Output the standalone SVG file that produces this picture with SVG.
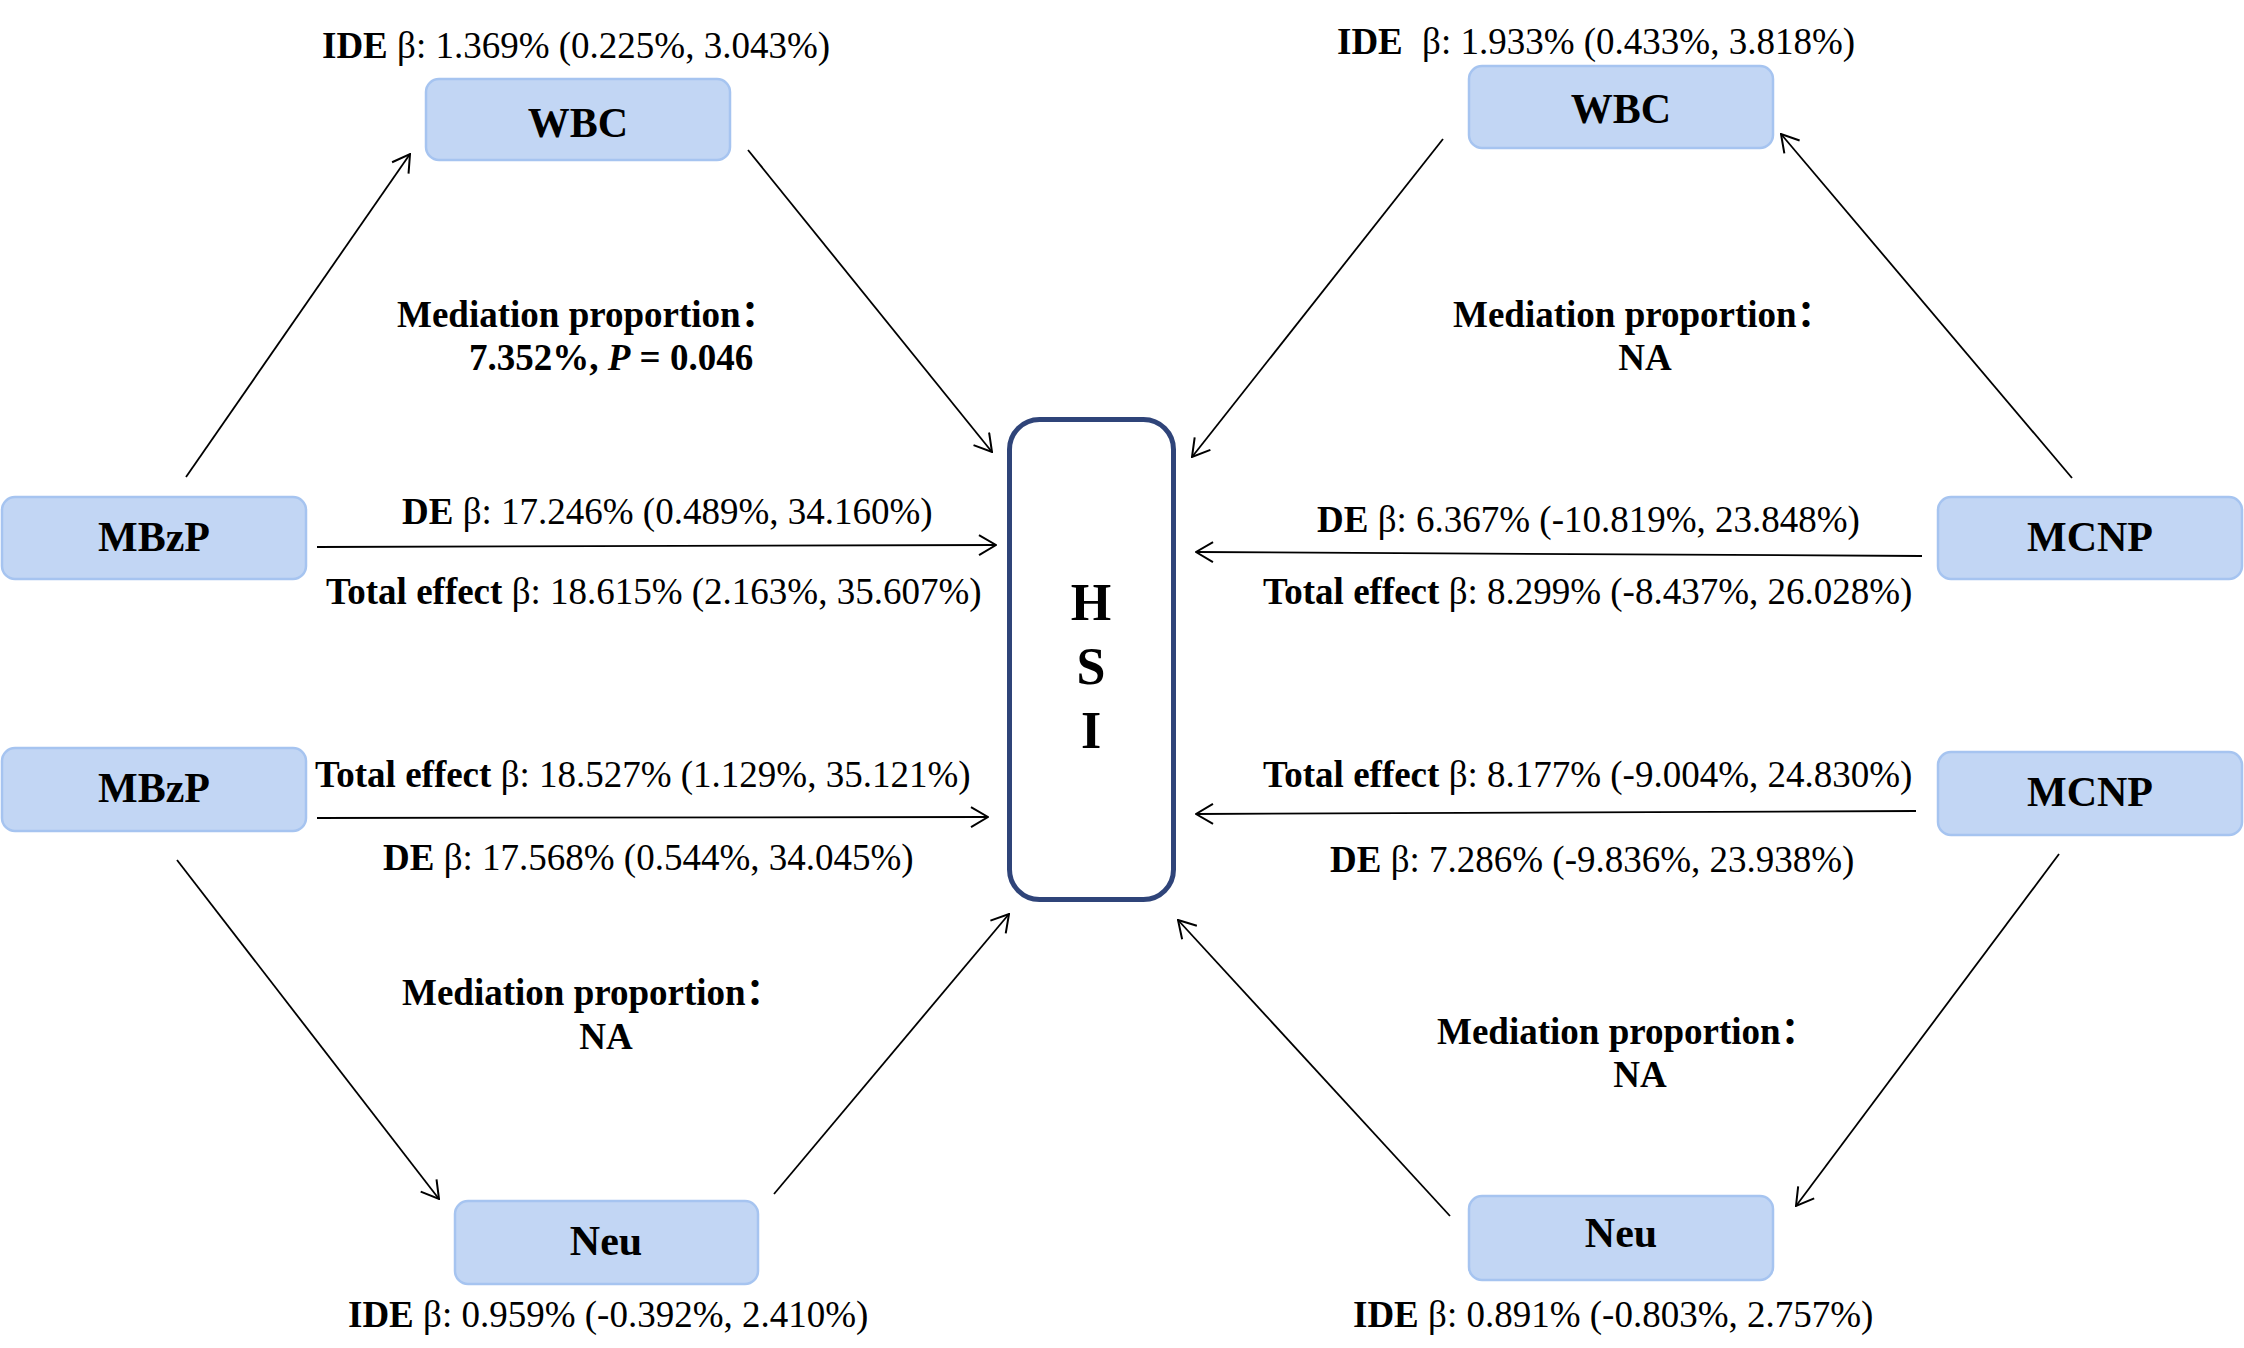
<svg xmlns="http://www.w3.org/2000/svg" width="2244" height="1348" viewBox="0 0 2244 1348">
<style>
.node{fill:#C2D6F4;stroke:#A6C4F0;stroke-width:2.5}
.hsi{fill:#FFFFFF;stroke:#2F4479;stroke-width:5}
.nt{font-family:"Liberation Serif","Noto Sans CJK SC",serif;font-size:42px;font-weight:bold;fill:#000;text-anchor:middle}
.ht{font-family:"Liberation Serif","Noto Sans CJK SC",serif;font-size:52px;font-weight:bold;fill:#000;text-anchor:middle}
.lbl{font-family:"Liberation Serif","Noto Sans CJK SC",serif;font-size:37px;fill:#000}
.b{font-weight:bold}
.mid{text-anchor:middle}
.conn line{stroke:#000;stroke-width:1.8;marker-end:url(#arr)}
</style>
<defs>
<marker id="arr" markerUnits="userSpaceOnUse" viewBox="0 0 20 22" refX="19" refY="11" markerWidth="20" markerHeight="22" orient="auto">
<path d="M2,1 L19,11 L2,21" fill="none" stroke="#000" stroke-width="2"/>
</marker>
</defs>
<rect width="2244" height="1348" fill="#FFFFFF"/>

<g id="connectors" class="conn">
<line x1="186" y1="477" x2="410" y2="154"/>
<line x1="748" y1="150" x2="992" y2="452"/>
<line x1="317" y1="547" x2="996" y2="545"/>
<line x1="1443" y1="139" x2="1192" y2="457"/>
<line x1="2072" y1="478" x2="1781" y2="134"/>
<line x1="1922" y1="556" x2="1196" y2="552"/>
<line x1="317" y1="818" x2="988" y2="817"/>
<line x1="177" y1="860" x2="439" y2="1199"/>
<line x1="774" y1="1194" x2="1009" y2="914"/>
<line x1="1916" y1="811" x2="1196" y2="814"/>
<line x1="2059" y1="854" x2="1796" y2="1206"/>
<line x1="1450" y1="1216" x2="1178" y2="920"/>
</g>

<g id="node-hsi">
<rect class="hsi" x="1009.5" y="419.5" width="164" height="480" rx="30"/>
<text class="ht" x="1091" y="620">H</text>
<text class="ht" x="1091" y="684">S</text>
<text class="ht" x="1091" y="748">I</text>
</g>
<g id="node-wbc-left">
<rect class="node" x="426" y="79" width="304" height="81" rx="13"/>
<text class="nt" x="578" y="137">WBC</text>
</g>
<g id="node-mbzp-top">
<rect class="node" x="2" y="497" width="304" height="82" rx="13"/>
<text class="nt" x="154" y="551">MBzP</text>
</g>
<g id="node-wbc-right">
<rect class="node" x="1469" y="66" width="304" height="82" rx="13"/>
<text class="nt" x="1621" y="123">WBC</text>
</g>
<g id="node-mcnp-top">
<rect class="node" x="1938" y="497" width="304" height="82" rx="13"/>
<text class="nt" x="2090" y="551">MCNP</text>
</g>
<g id="node-mbzp-bottom">
<rect class="node" x="2" y="748" width="304" height="83" rx="13"/>
<text class="nt" x="154" y="802">MBzP</text>
</g>
<g id="node-neu-left">
<rect class="node" x="455" y="1201" width="303" height="83" rx="13"/>
<text class="nt" x="606" y="1255">Neu</text>
</g>
<g id="node-mcnp-bottom">
<rect class="node" x="1938" y="752" width="304" height="83" rx="13"/>
<text class="nt" x="2090" y="806">MCNP</text>
</g>
<g id="node-neu-right">
<rect class="node" x="1469" y="1196" width="304" height="84" rx="13"/>
<text class="nt" x="1621" y="1247">Neu</text>
</g>

<g id="labels">
<text class="lbl" x="322" y="58"><tspan class="b">IDE</tspan> β: 1.369% (0.225%, 3.043%)</text>
<text class="lbl b" x="397" y="327">Mediation proportion：</text>
<text class="lbl b" x="469" y="370">7.352%, <tspan font-style="italic">P</tspan> = 0.046</text>
<text class="lbl" x="402" y="524"><tspan class="b">DE</tspan> β: 17.246% (0.489%, 34.160%)</text>
<text class="lbl" x="326" y="604"><tspan class="b">Total effect</tspan> β: 18.615% (2.163%, 35.607%)</text>

<text class="lbl" x="1337" y="54"><tspan class="b">IDE</tspan><tspan dx="10"> β: 1.933% (0.433%, 3.818%)</tspan></text>
<text class="lbl b" x="1453" y="327">Mediation proportion：</text>
<text class="lbl b mid" x="1645" y="370">NA</text>
<text class="lbl" x="1317" y="532"><tspan class="b">DE</tspan> β: 6.367% (-10.819%, 23.848%)</text>
<text class="lbl" x="1263" y="604"><tspan class="b">Total effect</tspan> β: 8.299% (-8.437%, 26.028%)</text>

<text class="lbl" x="315" y="787"><tspan class="b">Total effect</tspan> β: 18.527% (1.129%, 35.121%)</text>
<text class="lbl" x="383" y="870"><tspan class="b">DE</tspan> β: 17.568% (0.544%, 34.045%)</text>
<text class="lbl b" x="402" y="1005">Mediation proportion：</text>
<text class="lbl b mid" x="606" y="1049">NA</text>
<text class="lbl" x="348" y="1327"><tspan class="b">IDE</tspan> β: 0.959% (-0.392%, 2.410%)</text>

<text class="lbl" x="1263" y="787"><tspan class="b">Total effect</tspan> β: 8.177% (-9.004%, 24.830%)</text>
<text class="lbl" x="1330" y="872"><tspan class="b">DE</tspan> β: 7.286% (-9.836%, 23.938%)</text>
<text class="lbl b" x="1437" y="1044">Mediation proportion：</text>
<text class="lbl b mid" x="1640" y="1087">NA</text>
<text class="lbl" x="1353" y="1327"><tspan class="b">IDE</tspan> β: 0.891% (-0.803%, 2.757%)</text>
</g>
</svg>
